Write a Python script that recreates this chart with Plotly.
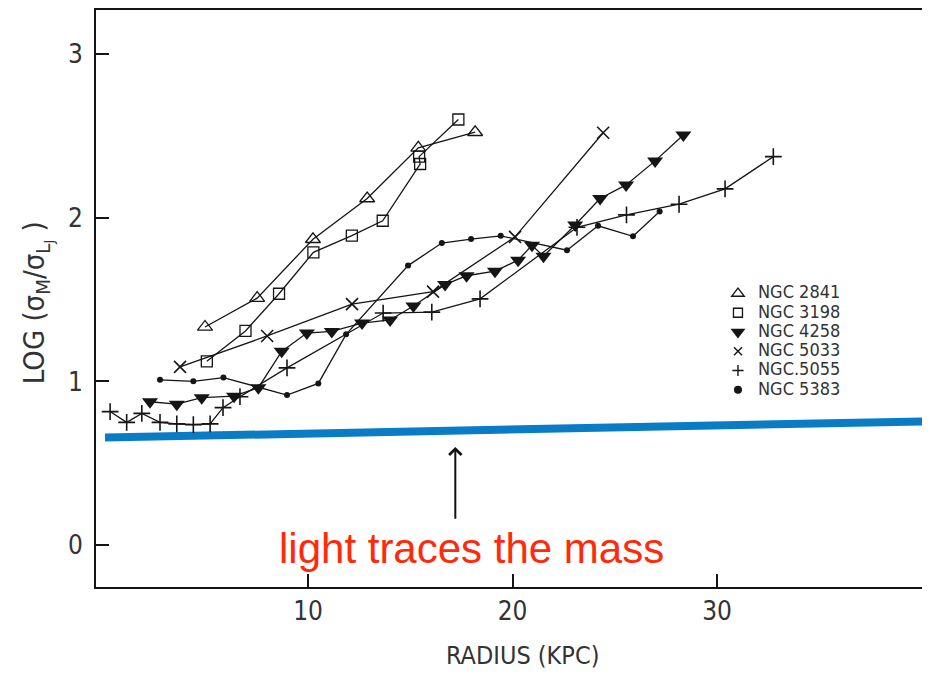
import plotly.graph_objects as go

# ---------------- data ----------------
r_2841 = [4.96, 7.51, 10.24, 12.89, 15.39, 18.17]
v_2841 = [1.333, 1.509, 1.869, 2.118, 2.428, 2.523]

r_3198 = [5.05, 6.94, 8.58, 10.26, 12.14, 13.65, 15.48, 15.43, 17.35]
v_3198 = [1.123, 1.309, 1.536, 1.789, 1.891, 1.982, 2.329, 2.374, 2.601]

r_4258 = [2.27, 3.58, 4.80, 6.38, 7.57, 8.71, 9.94, 11.16, 12.64, 14.01, 15.15,
          16.70, 17.75, 19.14, 20.27, 20.95, 21.51, 23.06, 24.28, 25.55, 26.97, 28.35]
v_4258 = [0.876, 0.861, 0.901, 0.910, 0.962, 1.184, 1.296, 1.306, 1.357, 1.376, 1.461,
          1.592, 1.646, 1.674, 1.741, 1.832, 1.765, 1.956, 2.118, 2.201, 2.348, 2.506]

r_5033 = [3.74, 8.00, 12.15, 16.11, 20.12, 24.43]
v_5033 = [1.089, 1.278, 1.473, 1.549, 1.884, 2.520]

r_5055 = [0.32, 1.13, 1.87, 2.76, 3.58, 4.39, 5.21, 5.84, 6.67, 8.97, 13.67, 16.05,
          18.41, 23.15, 25.57, 28.14, 30.39, 32.75]
v_5055 = [0.816, 0.750, 0.805, 0.750, 0.741, 0.736, 0.741, 0.840, 0.907, 1.083, 1.418, 1.424,
          1.505, 1.942, 2.018, 2.083, 2.177, 2.374]

r_5383 = [2.76, 4.39, 5.86, 8.97, 10.50, 11.86, 14.89, 16.54, 17.97, 19.42, 22.66, 24.18, 25.89, 27.19]
v_5383 = [1.010, 1.001, 1.024, 0.917, 0.988, 1.288, 1.708, 1.846, 1.870, 1.890, 1.802, 1.951, 1.887, 2.039]

names = ["NGC 2841", "NGC 3198", "NGC 4258", "NGC 5033", "NGC.5055", "NGC 5383"]

# "light traces the mass" reference line
light_r = [0.07, 40.5]
light_v = [0.657, 0.757]

x_ticks = [10, 20, 30]
y_ticks = [0, 1, 2, 3]

# ---------------- styling ----------------
INK = "#151515"
TXT = "#333333"
FONT = "DejaVu Sans Condensed, Liberation Sans Narrow, Liberation Sans, Arial, sans-serif"

series = [
    (r_2841, v_2841, dict(symbol="triangle-up-open", size=13, line=dict(width=1.3, color=INK)),
     dict(symbol="triangle-up-open", size=11, line=dict(width=1.3, color=INK))),
    (r_3198, v_3198, dict(symbol="square-open", size=11, line=dict(width=1.3, color=INK)),
     dict(symbol="square-open", size=9, line=dict(width=1.3, color=INK))),
    (r_4258, v_4258, dict(symbol="triangle-down", size=14, line=dict(width=0)),
     dict(symbol="triangle-down", size=13, line=dict(width=0))),
    (r_5033, v_5033, dict(symbol="x-thin", size=12, line=dict(width=1.6, color=INK)),
     dict(symbol="x-thin", size=8, line=dict(width=1.4, color=INK))),
    (r_5055, v_5055, dict(symbol="cross-thin", size=12, line=dict(width=1.6, color=INK)),
     dict(symbol="cross-thin", size=8, line=dict(width=1.4, color=INK))),
    (r_5383, v_5383, dict(symbol="circle", size=6, line=dict(width=0)),
     dict(symbol="circle", size=8, line=dict(width=0))),
]

fig = go.Figure()

fig.add_trace(go.Scatter(x=light_r, y=light_v, mode="lines",
                         line=dict(color="#0a7cc6", width=8),
                         showlegend=False, hoverinfo="skip"))

for (rx, vy, mk, lmk), nm in zip(series, names):
    fig.add_trace(go.Scatter(x=rx, y=vy, mode="lines+markers", name=nm,
                             line=dict(color=INK, width=1.3),
                             marker=dict(color=INK, **mk),
                             showlegend=False))
    fig.add_trace(go.Scatter(x=[None], y=[None], mode="markers",
                             name='<span style="font-size:18px">' + nm + '</span>',
                             marker=dict(color=INK, **lmk), showlegend=True))

axis_common = dict(showgrid=False, zeroline=False, showline=True, linecolor=INK,
                   linewidth=1.8, mirror=True, ticks="inside", tickcolor=INK,
                   tickwidth=1.5, ticklen=13,
                   tickfont=dict(family=FONT, size=26, color=TXT))

# page body has an 8px margin, so the figure is 922x667 and placed at (8, 8)
fig.update_layout(
    width=922, height=667,
    margin=dict(l=88, r=8, t=0, b=88),
    paper_bgcolor="white", plot_bgcolor="white",
    xaxis=dict(range=[-0.37, 40.02], tickvals=x_ticks, **axis_common),
    yaxis=dict(range=[-0.256, 3.27], tickvals=y_ticks, ticklabelstandoff=6, **axis_common),
    legend=dict(x=0.753, y=0.534, xanchor="left", yanchor="top",
                bgcolor="rgba(0,0,0,0)", borderwidth=0, itemwidth=30,
                font=dict(family=FONT, size=12.5, color=TXT)),
    showlegend=True,
)

fig.add_annotation(xref="paper", yref="paper", x=0.516, y=-0.118,
                   text="RADIUS (KPC)", showarrow=False, xanchor="center", yanchor="middle",
                   font=dict(family=FONT, size=25, color=TXT))
fig.add_annotation(xref="paper", yref="paper", x=-0.0714, y=0.492,
                   text="LOG (σ<sub>M</sub>/σ<sub>L<sub>J</sub></sub> )", textangle=-90,
                   showarrow=False, xanchor="center", yanchor="middle",
                   font=dict(family=FONT, size=29, color=TXT))

# arrow pointing at the line
fig.add_annotation(x=17.2, y=0.60, ax=17.2, ay=0.152, xref="x", yref="y",
                   axref="x", ayref="y", text="", showarrow=True,
                   arrowhead=4, arrowsize=1.2, arrowwidth=2, arrowcolor="#111111")
fig.add_annotation(x=18.0, y=-0.02, xref="x", yref="y", text="light traces the mass",
                   showarrow=False, xanchor="center", yanchor="middle",
                   font=dict(family="Liberation Sans, Arial, sans-serif", size=42, color="#ff2a0a"))

fig.write_html("out.html")
